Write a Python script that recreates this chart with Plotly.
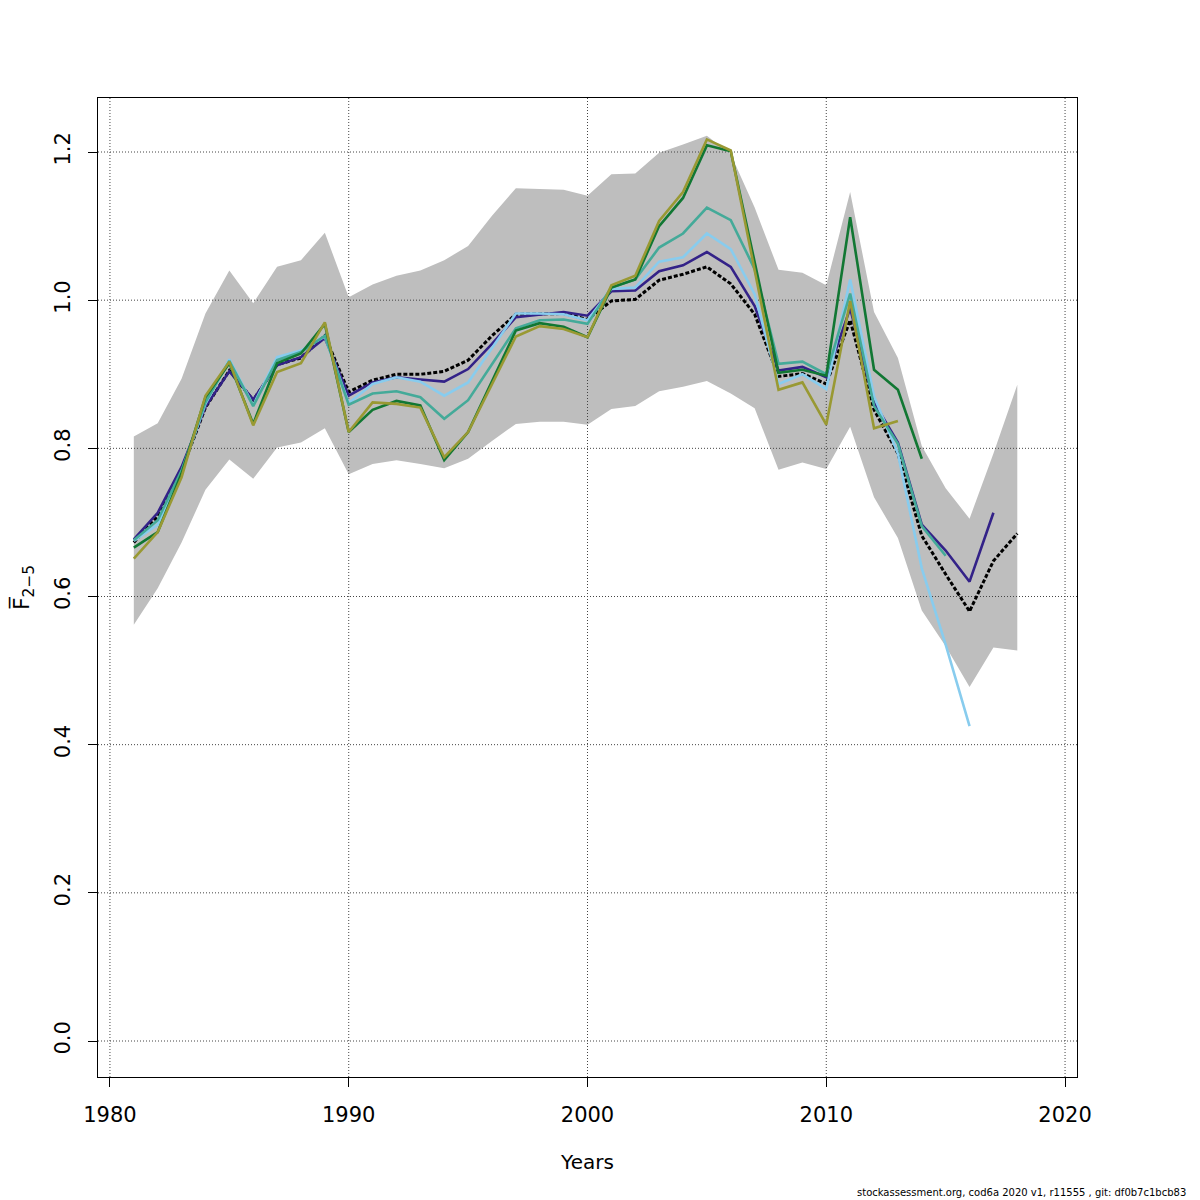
import plotly.graph_objects as go

years = list(range(1981, 2019))

# current estimate and its confidence band
fbar = [0.673, 0.708, 0.770, 0.855, 0.905, 0.865, 0.913, 0.922, 0.952, 0.876,
        0.892, 0.900, 0.900, 0.904, 0.919, 0.952, 0.981, 0.981, 0.982, 0.974,
        0.999, 1.001, 1.027, 1.035, 1.045, 1.022, 0.981, 0.897, 0.901, 0.887,
        0.973, 0.852, 0.793, 0.682, 0.630, 0.580, 0.648, 0.685]
upper = [0.816, 0.834, 0.894, 0.982, 1.040, 0.996, 1.045, 1.054, 1.091, 1.004,
         1.021, 1.033, 1.040, 1.054, 1.073, 1.114, 1.151, 1.150, 1.149, 1.141,
         1.170, 1.171, 1.199, 1.210, 1.222, 1.197, 1.125, 1.041, 1.037, 1.020,
         1.146, 0.984, 0.922, 0.803, 0.746, 0.705, 0.793, 0.886]
lower = [0.562, 0.611, 0.673, 0.744, 0.785, 0.759, 0.801, 0.808, 0.827, 0.765,
         0.779, 0.784, 0.779, 0.773, 0.786, 0.810, 0.833, 0.836, 0.836, 0.832,
         0.853, 0.857, 0.877, 0.883, 0.891, 0.874, 0.854, 0.771, 0.781, 0.772,
         0.829, 0.734, 0.679, 0.581, 0.533, 0.478, 0.531, 0.527]

# retrospective peels
peel1 = [0.677, 0.713, 0.775, 0.856, 0.904, 0.866, 0.912, 0.923, 0.949, 0.871,
         0.889, 0.896, 0.893, 0.890, 0.907, 0.941, 0.977, 0.981, 0.984, 0.979,
         1.012, 1.013, 1.039, 1.047, 1.065, 1.045, 0.992, 0.905, 0.910, 0.896,
         0.989, 0.862, 0.808, 0.697, 0.662, 0.620, 0.713]
peel2 = [0.675, 0.697, 0.768, 0.860, 0.920, 0.858, 0.923, 0.932, 0.951, 0.861,
         0.887, 0.896, 0.890, 0.871, 0.889, 0.936, 0.982, 0.982, 0.981, 0.973,
         1.015, 1.017, 1.052, 1.058, 1.090, 1.069, 1.008, 0.887, 0.900, 0.880,
         1.028, 0.870, 0.793, 0.638, 0.535, 0.425]
peel3 = [0.676, 0.703, 0.770, 0.862, 0.918, 0.857, 0.919, 0.930, 0.952, 0.859,
         0.874, 0.877, 0.869, 0.840, 0.865, 0.914, 0.962, 0.973, 0.974, 0.968,
         1.017, 1.028, 1.071, 1.090, 1.125, 1.108, 1.042, 0.914, 0.917, 0.900,
         1.009, 0.857, 0.806, 0.695, 0.655]
peel4 = [0.666, 0.687, 0.766, 0.869, 0.915, 0.833, 0.915, 0.928, 0.968, 0.822,
         0.852, 0.864, 0.858, 0.784, 0.822, 0.891, 0.959, 0.969, 0.964, 0.950,
         1.017, 1.028, 1.100, 1.138, 1.209, 1.201, 1.050, 0.902, 0.906, 0.898,
         1.112, 0.906, 0.879, 0.786]
peel5 = [0.651, 0.687, 0.761, 0.871, 0.917, 0.831, 0.903, 0.915, 0.970, 0.822,
         0.862, 0.860, 0.855, 0.788, 0.822, 0.887, 0.951, 0.965, 0.961, 0.950,
         1.020, 1.033, 1.107, 1.146, 1.217, 1.202, 1.040, 0.879, 0.889, 0.832,
         0.999, 0.827, 0.837]

peels = [peel1, peel2, peel3, peel4, peel5]
peel_colors = ['#332288', '#88CCEE', '#44AA99', '#117733', '#999933']

x_ticks = [1980, 1990, 2000, 2010, 2020]
y_ticks = [0.0, 0.2, 0.4, 0.6, 0.8, 1.0, 1.2]
y_labels = ['0.0', '0.2', '0.4', '0.6', '0.8', '1.0', '1.2']
x_range = [1979.5, 2020.5]
y_range = [-0.0486, 1.2729]

fig = go.Figure()

# band
fig.add_trace(go.Scatter(x=years + years[::-1], y=upper + lower[::-1],
                         fill='toself', fillcolor='#BEBEBE', mode='none',
                         hoverinfo='skip'))

# dotted grid drawn over the band, under the lines
for xv in x_ticks:
    fig.add_trace(go.Scatter(x=[xv, xv], y=y_range, mode='lines',
                             line=dict(color='#444444', width=1, dash='1px,2px'),
                             hoverinfo='skip'))
for yv in y_ticks:
    fig.add_trace(go.Scatter(x=x_range, y=[yv, yv], mode='lines',
                             line=dict(color='#444444', width=1, dash='1px,2px'),
                             hoverinfo='skip'))

fig.add_trace(go.Scatter(x=years, y=fbar, mode='lines',
                         line=dict(color='black', width=3, dash='4px,2px')))

for vals, col in zip(peels, peel_colors):
    fig.add_trace(go.Scatter(x=years[:len(vals)], y=vals, mode='lines',
                             line=dict(color=col, width=2.6)))

fig.update_layout(
    width=1200,
    height=1200,
    showlegend=False,
    plot_bgcolor='white',
    paper_bgcolor='white',
    margin=dict(l=90, r=131, t=90, b=131),
    font=dict(family='DejaVu Sans', size=21, color='black'),
    xaxis=dict(range=x_range, tickvals=x_ticks, showgrid=False, zeroline=False,
               showline=True, linecolor='black', linewidth=1, mirror=True,
               ticks='outside', ticklen=9, tickcolor='black', ticklabelstandoff=10,
               automargin=False,
               title=dict(text='Years', standoff=28, font=dict(size=20))),
    yaxis=dict(range=y_range, tickvals=y_ticks, ticktext=y_labels,
               tickangle=-90, showgrid=False, zeroline=False,
               showline=True, linecolor='black', linewidth=1, mirror=True,
               ticks='outside', ticklen=9, tickcolor='black', ticklabelstandoff=10,
               automargin=False,
               title=dict(text='F\u0305<sub>2\u22125</sub>', standoff=34, font=dict(size=22))),
)

fig.add_annotation(text='stockassessment.org, cod6a 2020 v1, r11555 , git: df0b7c1bcb83',
                   xref='paper', yref='paper', x=1.0, y=0, xanchor='right', yanchor='bottom',
                   xshift=111, yshift=-123, showarrow=False,
                   font=dict(size=10, family='DejaVu Sans'))

fig.write_html("out.html")
